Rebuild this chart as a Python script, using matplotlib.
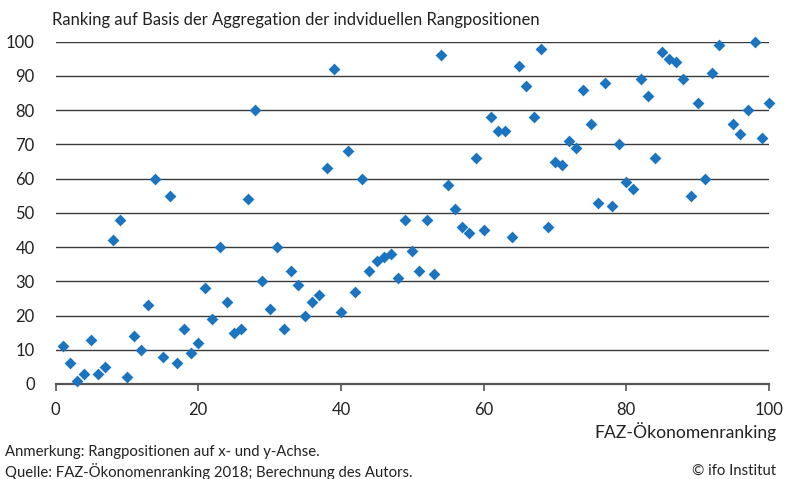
import matplotlib.pyplot as plt

# FAZ-Ökonomenranking (x) vs. aggregiertes Ranking (y)
x_rank = list(range(1, 94)) + [95, 96, 97, 98, 99, 100]
y_rank = [
    11, 6, 1, 3, 13, 3, 5, 42, 48, 2,
    14, 10, 23, 60, 8, 55, 6, 16, 9, 12,
    28, 19, 40, 24, 15, 16, 54, 80, 30, 22,
    40, 16, 33, 29, 20, 24, 26, 63, 92, 21,
    68, 27, 60, 33, 36, 37, 38, 31, 48, 39,
    33, 48, 32, 96, 58, 51, 46, 44, 66, 45,
    78, 74, 74, 43, 93, 87, 78, 98, 46, 65,
    64, 71, 69, 86, 76, 53, 88, 52, 70, 59,
    57, 89, 84, 66, 97, 95, 94, 89, 55, 82,
    60, 91, 99,
    76, 73, 80, 100, 72, 82,
]
x_ticks = [0, 20, 40, 60, 80, 100]
y_ticks = list(range(0, 101, 10))

plt.rcParams['font.family'] = ['Lato', 'DejaVu Sans']

fig = plt.figure(figsize=(7.86, 4.79), dpi=100)
ax = fig.add_axes([55.5 / 786, 1 - 384 / 479, (769 - 55.5) / 786, (384 - 41.7) / 479])

ax.scatter(x_rank, y_rank, marker='D', s=36, color='#1a74bf', linewidths=0,
           zorder=3, clip_on=False)

ax.set_xlim(0, 100)
ax.set_ylim(0, 100)
ax.set_xticks(x_ticks)
ax.set_yticks(y_ticks)
ax.yaxis.grid(True, color='#3a3a3a', linewidth=1.0)
ax.set_axisbelow(True)

for side in ['top', 'right', 'left']:
    ax.spines[side].set_visible(False)
ax.spines['bottom'].set_color('#555555')
ax.spines['bottom'].set_linewidth(1.6)

ax.tick_params(axis='x', length=5, width=1.2, color='#555555', labelsize=12, pad=8)
ax.tick_params(axis='y', length=0, labelsize=12, pad=15)
for lab in ax.get_xticklabels() + ax.get_yticklabels():
    lab.set_color('#222222')

fig.text(52 / 786, 1 - 20 / 479, 'Ranking auf Basis der Aggregation der indviduellen Rangpositionen',
         fontsize=12, color='#222222', va='center', ha='left')
fig.text(777 / 786, 1 - 432 / 479, 'FAZ-Ökonomenranking', fontsize=12.6, color='#222222',
         va='center', ha='right')
fig.text(5 / 786, 1 - 452 / 479, 'Anmerkung: Rangpositionen auf x- und y-Achse.',
         fontsize=10.7, color='#222222', va='center', ha='left')
fig.text(5 / 786, 1 - 471 / 479, 'Quelle: FAZ-Ökonomenranking 2018; Berechnung des Autors.',
         fontsize=10.7, color='#222222', va='center', ha='left')
fig.text(692 / 786, 1 - 471 / 479, '© ifo Institut', fontsize=10.7, color='#222222',
         va='center', ha='left')

fig.savefig('out.png', dpi=100)
